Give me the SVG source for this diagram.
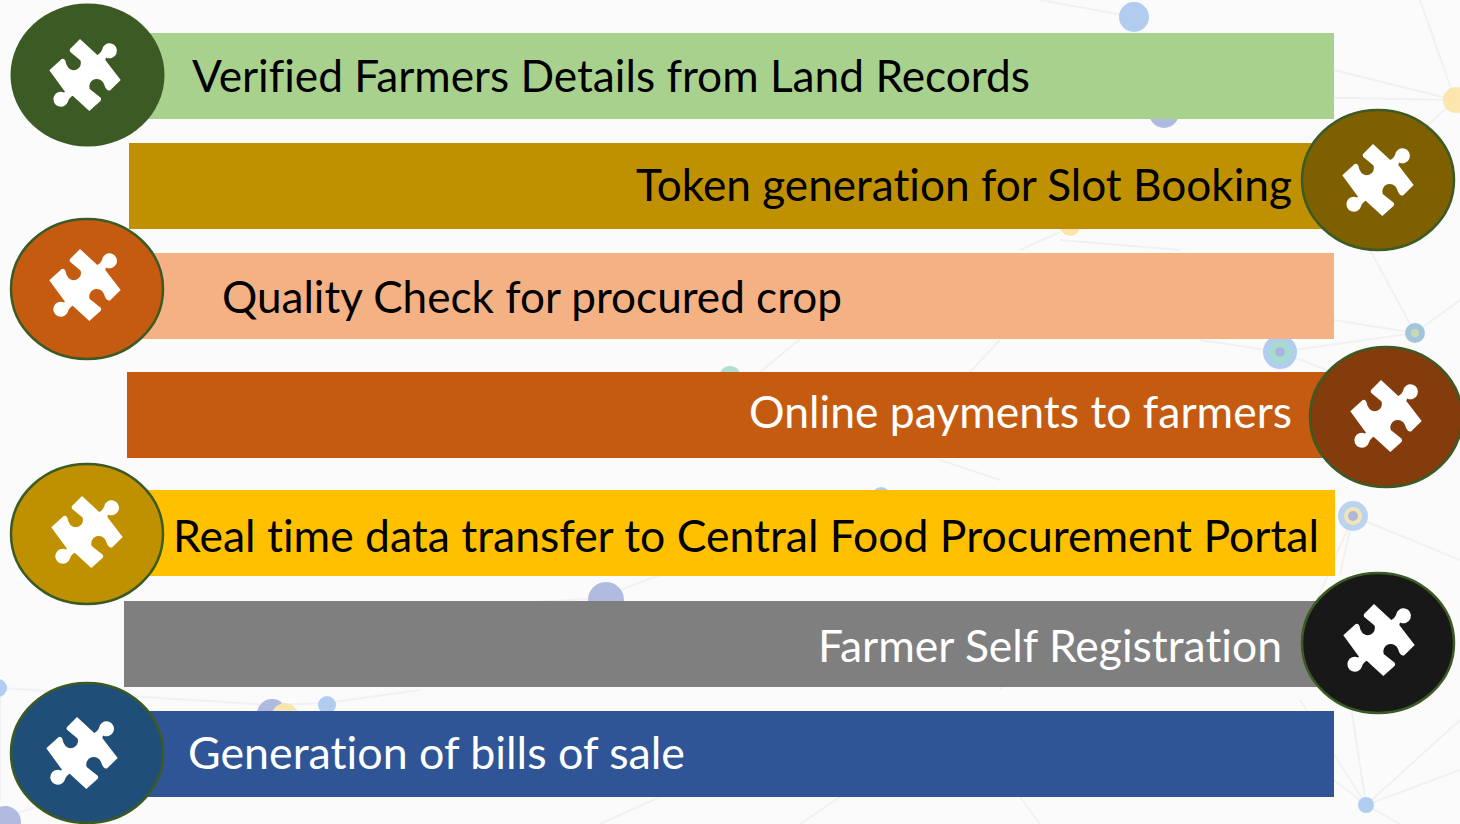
<svg xmlns="http://www.w3.org/2000/svg" width="1460" height="824" viewBox="0 0 1460 824">
<style>
.lbl{font-family:"Lato","Liberation Sans",sans-serif;font-size:44px;font-variant-ligatures:none}
.dk{fill:#000}.lt{fill:#fff}
.c{stroke:#3b5a24;stroke-width:2.5}
.net{stroke:#f1f1f3;stroke-width:2;fill:none}
</style>
<defs>
<path id="pz" fill="#fff" d="M80 39L97.300 55C99.500 54 101 52 102 50A7.500 7.500 0 1 1 106 57.500L105.300 60L120.700 80L110 90.500C107.500 91 105.500 89 104 84A7.300 7.300 0 1 0 89.700 89L100.700 97.700Q101.700 99.500 100.500 101L89.300 111L72.700 95.700C70.500 97 68.500 99 68 101.500A7.500 7.500 0 1 1 64 92.500L65 91.700L49.300 70.300L61.700 59Q64 58 65.500 61C66 63 66.300 64.500 67 65.500A7.100 7.100 0 1 0 80.500 60.500L70 51.700Q69 50 70.500 48.500Z"/>
</defs>
<rect width="1460" height="824" fill="#fbfbfc"/>
<g id="background">
<path class="net" d="M1040 0L1134 17M1190 95L1455 100M1334 70L1455 100M1420 0L1455 100M1455 100L1380 170M1370 250L1415 333M1334 320L1415 333M1280 352L1415 333M1415 333L1460 300M1280 352L1340 375M1353 516L1460 560M1353 516L1300 640M1340 575L1353 516M1366 805L1460 720M1366 805L1460 770M1366 805L1334 780M1366 805L1400 824M1366 805L1300 700M1350 700L1366 805M0 688L270 705M270 705L327 703M327 703L420 690M1000 690L1020 670M1020 797L1040 824M840 797L800 824M660 797L600 824M0 818L60 800M0 688L0 800M606 598L400 610M1060 240L1180 250M620 590L660 575M940 460L1000 480M970 372L1000 340M760 372L800 339M1200 340L1280 352M1020 250L1060 232"/>
<g opacity=".9">
<circle cx="1134" cy="17" r="15" fill="#a9c8ee"/>
<circle cx="1456" cy="100" r="13" fill="#fde3a4"/>
<circle cx="1164" cy="113" r="15" fill="#a7b4dc"/>
<circle cx="1070" cy="226" r="10" fill="#fde3a4"/>
<circle cx="1415" cy="333" r="10" fill="#9bbfd6"/><circle cx="1415" cy="333" r="4" fill="#c4d8a8"/>
<circle cx="1280" cy="352" r="17" fill="#a9c8ee"/><circle cx="1280" cy="352" r="11" fill="#9fd8c8"/><circle cx="1280" cy="352" r="5" fill="#9fb0e0"/>
<circle cx="730" cy="377" r="11" fill="#a9dcc8"/>
<circle cx="881" cy="496" r="9" fill="#a9c8ee"/>
<circle cx="1353" cy="516" r="15" fill="#b5cfee"/><circle cx="1353" cy="516" r="9" fill="#f0e2b0"/><circle cx="1353" cy="516" r="5" fill="#a8aed8"/>
<circle cx="606" cy="600" r="18" fill="#a7b4dc"/>
<circle cx="272" cy="714" r="15" fill="#a7b4dc"/>
<circle cx="285" cy="716" r="13" fill="#fde3a4"/>
<circle cx="327" cy="705" r="9" fill="#a9c8ee"/>
<circle cx="-2" cy="688" r="9" fill="#a9c8ee"/>
<circle cx="5" cy="822" r="16" fill="#a7b4dc"/>
<circle cx="1366" cy="805" r="8" fill="#a9c8ee"/>
</g>
</g>
<g id="connectors"></g>
<g id="n1"><rect x="130" y="33" width="1204" height="86" fill="#a9d18e"/><ellipse cx="87.500" cy="75" rx="77" ry="71.500" fill="#3b5a24"/><use href="#pz"/><text class="lbl dk" x="192" y="91.500" textLength="838" lengthAdjust="spacingAndGlyphs">Verified Farmers Details from Land Records</text></g>
<g id="n2"><rect x="129" y="143" width="1205" height="86" fill="#bf9000"/><ellipse class="c" cx="1378" cy="180" rx="76" ry="70" fill="#7f6000"/><use href="#pz" x="1293" y="105"/><text class="lbl dk" x="636" y="200.500" textLength="656" lengthAdjust="spacingAndGlyphs">Token generation for Slot Booking</text></g>
<g id="n3"><rect x="130" y="253" width="1204" height="86" fill="#f4b183"/><ellipse class="c" cx="87" cy="289" rx="76" ry="70" fill="#c55a11"/><use href="#pz" y="210"/><text class="lbl dk" x="222" y="312.500" textLength="620" lengthAdjust="spacingAndGlyphs">Quality Check for procured crop</text></g>
<g id="n4"><rect x="127" y="372" width="1207" height="86" fill="#c55a11"/><ellipse class="c" cx="1386" cy="417" rx="76" ry="70" fill="#843c0c"/><use href="#pz" x="1301" y="341"/><text class="lbl lt" x="749" y="427.500" textLength="543" lengthAdjust="spacingAndGlyphs">Online payments to farmers</text></g>
<g id="n5"><rect x="130" y="490" width="1205" height="86" fill="#ffc000"/><ellipse class="c" cx="87" cy="534" rx="76" ry="70" fill="#bf9000"/><use href="#pz" x="2" y="457"/><text class="lbl dk" x="173" y="551.500" textLength="1146" lengthAdjust="spacingAndGlyphs">Real time data transfer to Central Food Procurement Portal</text></g>
<g id="n6"><rect x="124" y="601" width="1210" height="86" fill="#7f7f7f"/><ellipse class="c" cx="1378" cy="643" rx="76" ry="70" fill="#181818"/><use href="#pz" x="1294" y="565"/><text class="lbl lt" x="818" y="661.500" textLength="464" lengthAdjust="spacingAndGlyphs">Farmer Self Registration</text></g>
<g id="n7"><rect x="130" y="711" width="1204" height="86" fill="#2f5597"/><ellipse class="c" cx="87" cy="753" rx="76" ry="70" fill="#1f4e79"/><use href="#pz" x="-3" y="678"/><text class="lbl lt" x="188" y="768.500" textLength="497" lengthAdjust="spacingAndGlyphs">Generation of bills of sale</text></g>
</svg>
